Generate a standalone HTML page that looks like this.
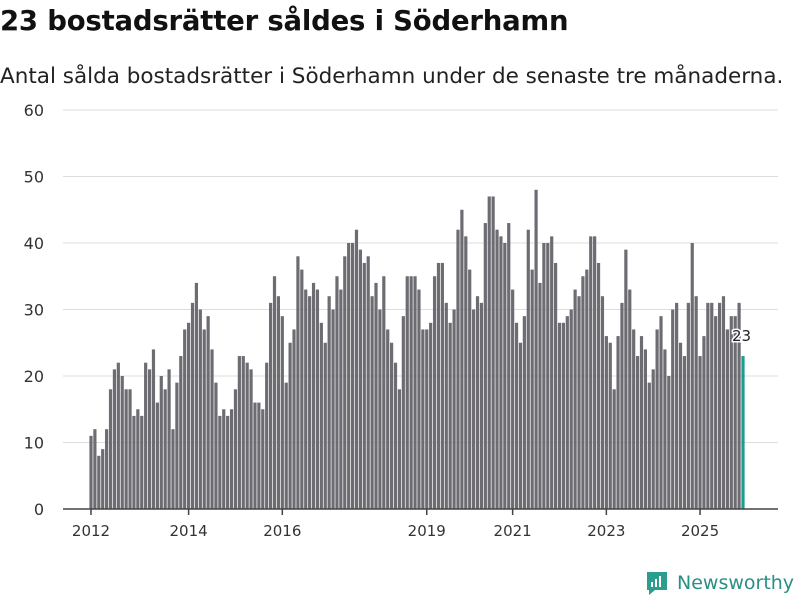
<!DOCTYPE html>
<html><head><meta charset="utf-8">
<style>
body{margin:0;background:#fff;width:800px;height:600px;overflow:hidden;font-family:"DejaVu Sans","Liberation Sans",sans-serif;}
#title{position:absolute;left:0;top:5px;font-size:27.5px;font-weight:bold;color:#111;margin:0;white-space:nowrap;letter-spacing:-0.2px;}
#sub{position:absolute;left:0;top:64px;font-size:21.5px;color:#222;white-space:nowrap;}
svg{position:absolute;left:0;top:0;}
</style></head><body>
<h1 id="title">23 bostadsrätter såldes i Söderhamn</h1>
<div id="sub">Antal sålda bostadsrätter i Söderhamn under de senaste tre månaderna.</div>
<svg id="chart" width="800" height="600"></svg>
<div style="position:absolute;left:645px;top:570px;height:26px;display:flex;align-items:center;">
<svg width="24" height="26" style="position:static"><path d="M2 2h20v18H10l-6 5v-5H2z" fill="#2a9d8f"/><rect x="6" y="12" width="2" height="5" fill="#fff"/><rect x="10" y="9" width="2" height="8" fill="#fff"/><rect x="14" y="6" width="2" height="11" fill="#fff"/></svg>
<span style="font-size:19px;color:#2a8f84;margin-left:8px;font-family:'DejaVu Sans',sans-serif">Newsworthy</span>
</div>
<script>
const values=[11,12,8,9,12,18,21,22,20,18,18,14,15,14,22,21,24,16,20,18,21,12,19,23,27,28,31,34,30,
27,29,24,19,14,15,14,15,18,23,23,22,21,16,16,15,22,31,35,32,29,19,25,27,38,36,33,32,34,
33,28,25,32,30,35,33,38,40,40,42,39,37,38,32,34,30,35,27,25,22,18,29,35,35,35,33,27,27,28,
35,37,37,31,28,30,42,45,41,36,30,32,31,43,47,47,42,41,40,43,33,28,25,29,42,36,48,34,40,40,
41,37,28,28,29,30,33,32,35,36,41,41,37,32,26,25,18,26,31,39,33,27,23,26,24,19,21,27,29,
24,20,30,31,25,23,31,40,32,23,26,31,31,29,31,32,27,29,29,31,23];
const yTicks=[0,10,20,30,40,50,60];
const xTickLabels=["2012","2014","2016","2019","2021","2023","2025"];
const xTickIdx=[0,25,49,86,108,132,156];
const svg=document.getElementById('chart');
const NS='http://www.w3.org/2000/svg';
const x0=91,x1=743,yBase=509,yTop=110;
const n=values.length;
const step=(x1-x0)/(n-1);
const xs=i=>x0+i*step;
const ys=v=>yBase-(v/60)*(yBase-yTop);
function mk(t,a){const e=document.createElementNS(NS,t);for(const k in a)e.setAttribute(k,a[k]);svg.appendChild(e);return e;}
yTicks.forEach(v=>{
  if(v>0){const g=mk('line',{x1:63,x2:778,y1:ys(v),y2:ys(v),stroke:'#ddd','stroke-width':1});
  
  }
  const t=mk('text',{x:44,y:ys(v)+6,'text-anchor':'end','font-size':16,fill:'#333','font-family':'DejaVu Sans,sans-serif'});
  t.textContent=v;
  
  
});
values.forEach((v,i)=>{
  const r=mk('rect',{x:xs(i)-1.6,y:ys(v),width:3.2,height:yBase-ys(v),fill:i===n-1?'#1a9e8f':'#6d6c72'});
  
  
});
const ax=mk('line',{x1:63,x2:778,y1:yBase,y2:yBase,stroke:'#444','stroke-width':1.5});


xTickLabels.forEach((l,k)=>{
  const xx=xs(xTickIdx[k]);
  const tk=mk('line',{x1:xx,x2:xx,y1:yBase,y2:yBase+6,stroke:'#444','stroke-width':1.5});
  
  
  const t=mk('text',{x:xx,y:536,'text-anchor':'middle','font-size':15,fill:'#333','font-family':'DejaVu Sans,sans-serif'});
  t.textContent=l;
  
  
});
const lab=mk('text',{x:xs(n-1)-11,y:ys(values[n-1])-15,'font-size':15,fill:'#222',stroke:'#fff','stroke-width':3,'paint-order':'stroke','font-family':'DejaVu Sans,sans-serif'});
lab.textContent=values[n-1];


</script>
</body></html>
